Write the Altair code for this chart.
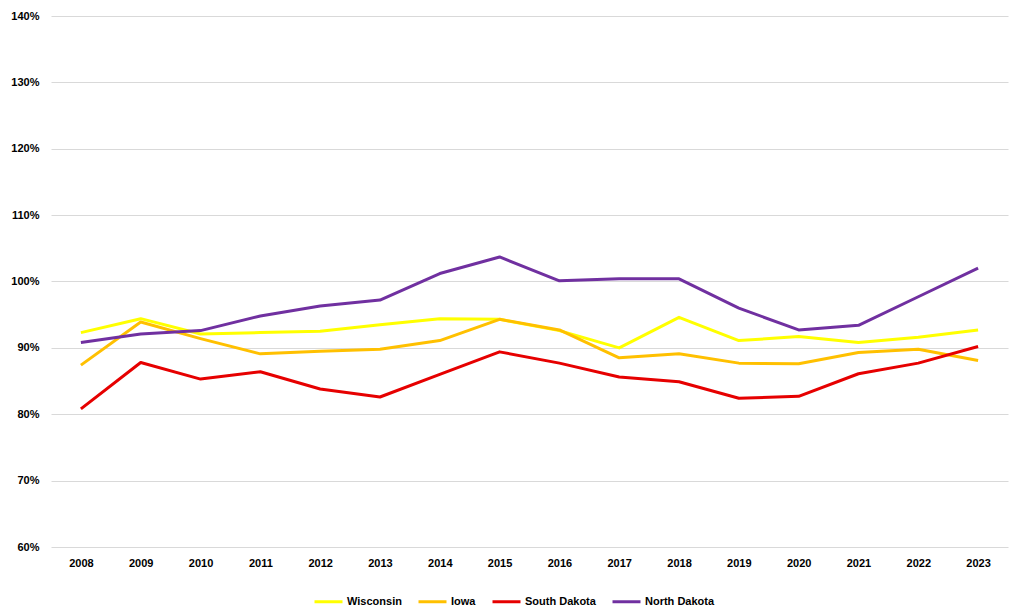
import altair as alt
import pandas as pd

years = [str(y) for y in range(2008, 2024)]
states = ["Wisconsin", "Iowa", "South Dakota", "North Dakota"]
colors = ["#FFFF00", "#FFC000", "#E60000", "#7030A0"]

wisconsin = [92.3, 94.4, 92.1, 92.3, 92.5, 93.5, 94.4, 94.3, 92.6, 90.0, 94.6, 91.1, 91.7, 90.8, 91.6, 92.7]
iowa = [87.4, 93.9, 91.4, 89.1, 89.5, 89.8, 91.1, 94.3, 92.7, 88.5, 89.1, 87.7, 87.6, 89.3, 89.8, 88.1]
south_dakota = [80.8, 87.8, 85.3, 86.4, 83.8, 82.6, 86.0, 89.4, 87.7, 85.6, 84.9, 82.4, 82.7, 86.1, 87.7, 90.2]
north_dakota = [90.8, 92.1, 92.6, 94.8, 96.3, 97.2, 101.2, 103.7, 100.1, 100.4, 100.4, 96.0, 92.7, 93.4, 97.7, 102.0]

series = [wisconsin, iowa, south_dakota, north_dakota]
rows = []
for i, (s, vals) in enumerate(zip(states, series)):
    for y, v in zip(years, vals):
        rows.append({"Year": y, "State": s, "Value": v / 100, "ord": i})
df = pd.DataFrame(rows)

FONT = "Liberation Sans"

chart = (
    alt.Chart(df)
    .mark_line(strokeWidth=3, strokeCap="butt", strokeJoin="round")
    .encode(
        x=alt.X(
            "Year:O",
            scale=alt.Scale(type="point", padding=0.5),
            axis=alt.Axis(
                title=None, labelAngle=0, ticks=False, domain=False, grid=False,
                labelPadding=10, labelFontSize=11, labelFontWeight="bold",
                labelColor="#000000", labelFont=FONT,
            ),
        ),
        y=alt.Y(
            "Value:Q",
            scale=alt.Scale(domain=[0.6, 1.4], nice=False, zero=False),
            axis=alt.Axis(
                title=None, format=".0%", values=[0.6, 0.7, 0.8, 0.9, 1.0, 1.1, 1.2, 1.3, 1.4],
                ticks=False, domain=False, gridColor="#D9D9D9", gridWidth=1,
                labelPadding=12, labelFontSize=11, labelFontWeight="bold",
                labelColor="#000000", labelFont=FONT,
            ),
        ),
        color=alt.Color(
            "State:N",
            scale=alt.Scale(domain=states, range=colors),
            sort=states,
            legend=alt.Legend(
                title=None, orient="none", direction="horizontal",
                legendX=262, legendY=570,
                symbolType="stroke", symbolSize=784, symbolStrokeWidth=3,
                labelFontSize=11, labelFontWeight="bold", labelColor="#000000",
                labelFont=FONT, labelOffset=3, columnPadding=10,
            ),
        ),
        order=alt.Order("ord:Q"),
    )
    .properties(
        width=957,
        height=531,
        autosize=alt.AutoSizeParams(type="none"),
        padding={"left": 43, "top": 8, "right": 8, "bottom": 59},
    )
    .configure_view(stroke=None)
)

chart.save("out.html", embed_options={"renderer": "svg", "actions": False})
